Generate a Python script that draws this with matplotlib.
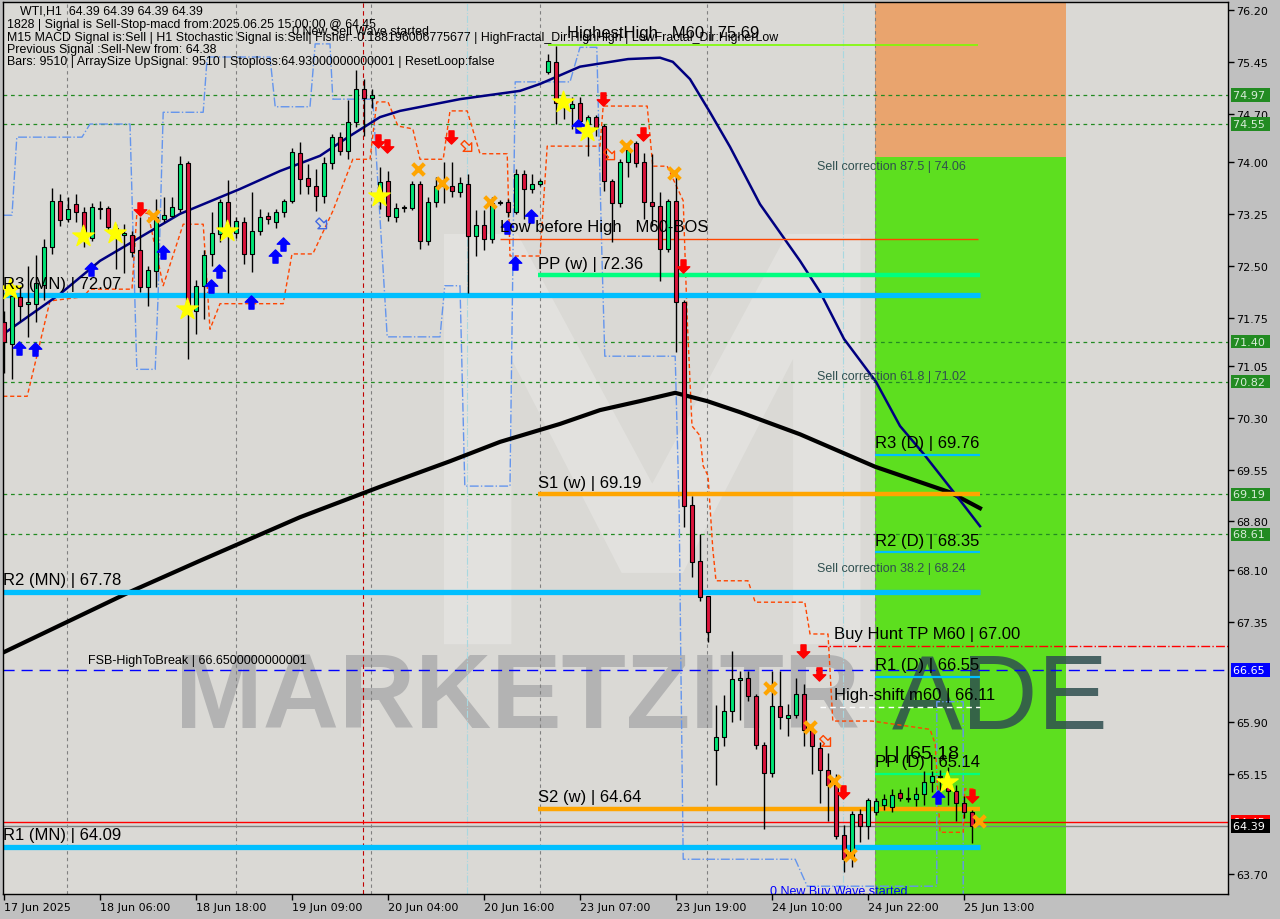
import matplotlib
matplotlib.use("Agg")
import matplotlib.pyplot as plt
import matplotlib.transforms as mtransforms
from matplotlib.path import Path
from matplotlib.patches import Rectangle, Polygon

# ---- H1 candles, bar 0 = 17 Jun 2025 ----
opens = [71.68, 71.37, 72.05, 71.94, 71.95, 72.22, 72.77, 73.43, 73.17, 73.39,
         73.28, 72.90, 73.32, 73.33, 73.05, 72.95, 72.94, 72.72, 72.19, 72.42,
         73.17, 73.22, 73.32, 73.99, 71.85, 72.20, 72.67, 72.96, 73.42, 72.98,
         73.13, 72.67, 73.00, 73.22, 73.13, 73.27, 73.44, 74.13, 73.77, 73.65,
         73.51, 73.99, 74.36, 74.16, 74.58, 75.05, 74.92, 73.51, 73.73, 73.20,
         73.33, 73.33, 73.68, 72.86, 73.42, 73.65, 73.65, 73.57, 73.68, 72.93,
         73.09, 72.88, 73.41, 73.42, 73.28, 73.83, 73.61, 73.68, 75.30, 75.45,
         74.85, 74.78, 74.85, 74.55, 74.65, 74.52, 73.73, 73.40, 74.00, 74.27,
         74.00, 73.42, 73.37, 72.74, 73.44, 71.98, 69.04, 68.22, 67.72, 65.49,
         65.68, 66.05, 66.50, 66.54, 66.27, 65.56, 65.16, 66.13, 65.96, 66.00,
         66.30, 65.78, 65.52, 65.20, 64.99, 64.26, 63.94, 64.56, 64.39, 64.60,
         64.70, 64.66, 64.87, 64.78, 64.78, 64.85, 65.03, 65.10, 64.98, 64.90,
         64.72, 64.60]
highs = [71.85, 72.24, 72.20, 72.49, 72.65, 72.89, 73.62, 73.54, 73.49, 73.54,
         73.35, 73.40, 73.43, 73.37, 73.10, 73.10, 73.00, 73.20, 72.50, 73.46,
         73.49, 73.49, 74.09, 74.02, 72.30, 72.72, 73.28, 73.47, 73.74, 73.20,
         73.20, 73.57, 73.32, 73.27, 73.32, 73.47, 74.20, 74.29, 73.97, 73.90,
         74.07, 74.41, 74.43, 74.90, 75.33, 75.20, 75.05, 73.93, 73.87, 73.40,
         73.38, 73.73, 73.72, 73.50, 73.78, 74.00, 74.00, 73.78, 73.83, 73.30,
         73.30, 73.50, 73.45, 73.47, 73.90, 73.88, 73.83, 73.76, 75.56, 75.68,
         74.98, 74.94, 74.94, 74.68, 74.68, 74.55, 73.76, 74.05, 74.28, 74.30,
         74.13, 74.12, 73.57, 73.47, 73.85, 72.00, 69.17, 68.62, 67.72, 66.14,
         66.29, 66.92, 66.63, 66.63, 66.30, 65.60, 66.63, 66.63, 66.15, 66.54,
         66.44, 65.80, 65.60, 65.45, 65.15, 64.40, 64.61, 64.63, 64.80, 64.80,
         64.85, 64.93, 64.93, 64.95, 64.95, 65.19, 65.19, 65.20, 65.25, 64.98,
         64.82, 64.62]
lows = [70.95, 70.86, 71.70, 71.47, 71.68, 72.00, 72.67, 73.07, 73.13, 73.13,
        72.77, 72.85, 73.18, 73.00, 72.45, 72.40, 72.62, 72.12, 71.92, 72.19,
        73.13, 73.20, 73.28, 71.15, 71.51, 71.73, 72.49, 72.84, 72.10, 72.90,
        72.53, 72.41, 72.95, 73.10, 73.05, 73.20, 73.40, 73.54, 73.54, 73.29,
        73.40, 73.90, 74.10, 74.04, 74.50, 74.38, 74.78, 73.32, 73.15, 73.13,
        73.28, 73.30, 72.74, 72.80, 73.35, 73.40, 73.50, 73.50, 72.10, 72.64,
        72.72, 72.83, 73.38, 73.20, 73.25, 73.17, 73.55, 73.65, 75.28, 74.55,
        74.62, 74.48, 74.48, 74.09, 74.38, 73.58, 72.84, 73.35, 73.78, 73.93,
        73.18, 73.07, 72.28, 72.70, 71.25, 68.72, 68.00, 67.65, 67.05, 64.99,
        65.55, 65.90, 65.92, 66.20, 65.50, 64.35, 65.10, 65.80, 65.70, 65.95,
        65.55, 65.15, 64.72, 64.46, 64.20, 63.73, 63.80, 64.16, 64.20, 64.55,
        64.62, 64.60, 64.75, 64.74, 64.68, 64.70, 64.88, 64.90, 64.70, 64.46,
        64.50, 64.14]
closes = [71.40, 72.06, 71.92, 71.97, 72.25, 72.77, 73.43, 73.16, 73.32, 73.28,
          72.88, 73.35, 73.33, 73.06, 73.00, 72.98, 72.70, 72.19, 72.44, 73.20,
          73.23, 73.35, 73.97, 71.92, 72.21, 72.66, 72.97, 73.42, 73.03, 73.14,
          72.67, 73.00, 73.20, 73.17, 73.27, 73.44, 74.15, 73.75, 73.65, 73.51,
          73.99, 74.36, 74.16, 74.58, 75.05, 74.92, 74.97, 73.71, 73.22, 73.33,
          73.33, 73.68, 72.86, 73.42, 73.65, 73.66, 73.58, 73.70, 72.93, 73.09,
          72.88, 73.40, 73.42, 73.28, 73.83, 73.61, 73.68, 73.73, 75.46, 74.85,
          74.83, 74.84, 74.60, 74.65, 74.50, 73.73, 73.40, 74.00, 74.18, 73.98,
          73.42, 73.37, 72.74, 73.44, 71.98, 69.02, 68.21, 67.70, 67.20, 65.68,
          66.05, 66.52, 66.54, 66.27, 65.56, 65.16, 66.13, 65.97, 66.00, 66.30,
          65.78, 65.55, 65.20, 64.99, 64.25, 63.92, 64.56, 64.39, 64.77, 64.76,
          64.78, 64.84, 64.80, 64.78, 64.85, 65.03, 65.11, 65.12, 64.90, 64.72,
          64.60, 64.39]

# moving averages (bar index, price)
ma_fast_bar = [-0.1, 7, 12, 17, 22, 29.5, 34.5, 39.5, 43, 47, 49.5, 57, 64.5, 67, 72,
               78, 82, 83.6, 85.75, 88.25, 90.75, 94.5, 99.5, 102, 105, 109, 112,
               115, 118.6, 122]
ma_fast_val = [71.51, 72.09, 72.57, 72.91, 73.25, 73.61, 73.87, 74.09, 74.36, 74.65,
               74.74, 74.91, 75.03, 75.13, 75.38, 75.49, 75.51, 75.45, 75.20, 74.72,
               74.22, 73.39, 72.57, 72.12, 71.44, 70.82, 70.18, 69.77, 69.24, 68.73]
ma_slow_bar = [-0.5, 15.75, 24.5, 37, 47, 55.75, 62, 69.5, 74.5, 79.5, 83.9, 87.9,
               92, 99.5, 108.9, 118.25, 122]
ma_slow_val = [66.88, 67.78, 68.23, 68.86, 69.30, 69.67, 69.95, 70.21, 70.41, 70.54,
               70.66, 70.54, 70.38, 70.06, 69.59, 69.22, 68.99]

# trailing stop (orange dashed) and wave channel (blue dash-dot)
stop_bar = [-0.1, 2.9, 5.75, 9.9, 10.75, 16, 16.6, 18, 19.9, 22.4, 24.9, 25.75, 27,
            34.9, 36, 38.6, 41.1, 43.6, 45.75, 46.6, 48, 49.25, 51.1, 52, 54.9,
            55.75, 57.9, 59.5, 62.9, 63.25, 67, 67.9, 74.5, 74.9, 80.4, 81.1, 82.9,
            84.9, 85.4, 86, 87, 87.4, 88, 88.6, 89, 93, 93.9, 100.1, 100.75, 103,
            103.6, 108.5, 115.75, 116.4, 117, 119.9, 120.1, 121.4]
stop_val = [70.61, 70.61, 71.99, 72.05, 72.16, 72.16, 73.25, 73.26, 72.21, 73.10,
            73.10, 71.58, 71.95, 71.95, 72.67, 72.67, 73.29, 74.04, 74.04, 74.87,
            74.87, 74.52, 74.48, 74.04, 74.04, 74.74, 74.74, 74.12, 74.12, 72.64,
            72.64, 74.23, 74.23, 74.81, 74.81, 73.94, 73.94, 73.44, 71.73, 70.18,
            70.04, 69.60, 69.46, 68.40, 67.94, 67.94, 67.63, 67.63, 67.17, 67.17,
            65.91, 65.91, 65.79, 65.58, 64.30, 64.30, 64.93, 64.93]
wave_bar = [-0.1, 1, 1.6, 9.75, 10.75, 15.75, 16.6, 18.9, 19.25, 19.9, 24.9, 25.4,
            33.25, 33.9, 38.25, 38.9, 40.75, 41.1, 46.1, 47.9, 54.5, 55.1, 57, 57.6,
            63.25, 63.9, 70.75, 72, 74.1, 74.75, 75.1, 83.9, 84.4, 84.6, 84.9, 98.9,
            100.4, 116.6, 116.6, 119.9, 119.9]
wave_val = [73.23, 73.23, 74.36, 74.36, 74.55, 74.55, 71.00, 71.00, 72.02, 74.72,
            74.72, 75.52, 75.52, 74.80, 74.80, 75.71, 75.71, 74.91, 74.91, 71.47,
            71.47, 72.21, 72.21, 69.31, 69.31, 75.16, 75.16, 75.66, 75.66, 72.60,
            71.19, 71.19, 68.94, 66.81, 63.91, 63.91, 63.52, 63.52, 66.19, 66.19,
            63.33]

# signal markers (bar index, price)
buy_bar = [1.9, 3.9, 10.9, 19.9, 25.9, 26.9, 30.9, 33.9, 34.9, 62.9, 65.9, 63.9, 71.75, 116.75]
buy_val = [71.31, 71.29, 72.45, 72.70, 72.21, 72.42, 71.97, 72.64, 72.81, 73.06, 73.22, 72.54, 74.52, 64.81]
sell_bar = [17, 46.75, 47.9, 55.9, 74.9, 79.9, 84.9, 99.9, 101.9, 104.9, 121]
sell_val = [73.32, 74.30, 74.23, 74.36, 74.91, 74.41, 72.50, 66.92, 66.59, 64.88, 64.83]
star_bar = [0.75, 9.9, 13.9, 22.9, 27.9, 46.9, 69.9, 72.9, 117.9]
star_val = [72.16, 72.93, 72.97, 71.87, 73.00, 73.51, 74.87, 74.45, 65.03]
cross_bar = [18.6, 51.75, 54.75, 60.75, 77.75, 83.75, 95.75, 100.75, 103.75, 105.75, 121.9]
cross_val = [73.22, 73.90, 73.70, 73.42, 74.23, 73.84, 66.39, 65.82, 65.04, 63.97, 64.46]
hollow_bar = [39.75, 57.9, 75.75, 102.75]
hollow_val = [73.10, 74.22, 74.10, 65.61]
hollow_col = ['#4169e1', '#ff4500', '#ff4500', '#ff4500']

# price axis / time axis
price_ticks = [76.20, 75.45, 74.70, 74.00, 73.25, 72.50, 71.75, 71.05, 70.30, 69.55,
               68.80, 68.10, 67.35, 65.90, 65.15, 63.70]
time_ticks = [0, 12, 24, 36, 48, 60, 72, 84, 96, 108, 120]
time_labels = ['17 Jun 2025', '18 Jun 06:00', '18 Jun 18:00', '19 Jun 09:00',
               '20 Jun 04:00', '20 Jun 16:00', '23 Jun 07:00', '23 Jun 19:00',
               '24 Jun 10:00', '24 Jun 22:00', '25 Jun 13:00']
green_levels = [74.97, 74.55, 71.40, 70.82, 69.19, 68.61]
day_sep = [7.9, 29, 45.9, 67, 87.9, 108.9]

fig = plt.figure(figsize=(12.8, 9.2), dpi=100, facecolor='#c0c0c0')
ax = fig.add_axes([3 / 1280, 25 / 920, 1225 / 1280, 892 / 920])
ax.set_facecolor('#dad9d5')
ax.set_xlim(-0.125, 153.0)
ax.set_ylim(63.407, 76.316)

# trade zone
ax.add_patch(Rectangle((108.9, 63.0), 23.85, 74.08 - 63.0, fc='#5ddf1f', ec='none', zorder=0.4))
ax.add_patch(Rectangle((108.9, 74.08), 23.85, 3.0, fc='#e9a46e', ec='none', zorder=0.4))

# faint logo behind the chart (drawn as a shape, in axes fractions)
logo = [(0.36, 0.28), (0.36, 0.74), (0.42, 0.74), (0.53, 0.46), (0.64, 0.74),
        (0.70, 0.74), (0.70, 0.28), (0.645, 0.28), (0.645, 0.60), (0.555, 0.36),
        (0.505, 0.36), (0.415, 0.60), (0.415, 0.28)]
ax.add_patch(Polygon(logo, closed=True, transform=ax.transAxes, fc='white',
                     ec='none', alpha=0.22, zorder=0.5))

# watermark text
ax.text(21.4, 65.82, 'MARKETZITR', fontsize=76, fontweight='bold', family='Liberation Sans',
        color='#b3b3b3', ha='left', va='baseline', zorder=0.6)
ax.text(111.0, 65.82, 'ADE', fontsize=76, family='Liberation Sans',
        color='#2f4f4f', alpha=0.85, ha='left', va='baseline', zorder=0.6)

# vertical separators
for b in day_sep:
    ax.axvline(b, color='#808080', lw=0.8, ls=(0, (3, 3)), zorder=1)
ax.axvline(44.9, color='#c00000', lw=0.8, ls=(0, (4, 3)), zorder=1)
for b in [57.9, 104.9]:
    ax.axvline(b, color='#a8d8e0', lw=0.8, ls='-.', zorder=1)

# green dotted levels
for lv in green_levels:
    ax.axhline(lv, color='#228b22', lw=0.9, ls=(0, (3, 3)), zorder=1)

# long horizontal lines
ax.axhline(66.65, color='#0000ff', lw=1, ls=(0, (8, 5)), zorder=1.5)
ax.hlines(67.00, 101.75, 153, color='#ff0000', lw=1, ls='-.', zorder=1.5)
ax.axhline(64.45, color='#ff0000', lw=1, zorder=1.5)
ax.axhline(64.39, color='#808080', lw=1, zorder=1.5)

# indicator lines
ax.plot(wave_bar, wave_val, color='#6495ed', lw=1, ls='-.', zorder=2)
ax.plot(stop_bar, stop_val, color='#ff4500', lw=1, ls=(0, (3, 2)), zorder=2)
ax.plot(ma_slow_bar, ma_slow_val, color='black', lw=3, zorder=2.2)
ax.plot(ma_fast_bar, ma_fast_val, color='#000080', lw=1.8, zorder=2.2)

# levels with labels
def level(y, x0, x1, color, lw, label, lx, fs=12):
    ax.hlines(y, x0, x1, color=color, lw=lw, zorder=2.5)
    if label:
        ax.text(lx, y + 0.07, label, fontsize=fs, family='Liberation Sans', color='black',
                ha='left', va='bottom', zorder=5)

level(75.69, 68.0, 121.75, '#7cfc00', 1.2, 'HighestHigh   M60 | 75.69', 70.4)
level(72.89, 62.0, 121.75, '#ff4500', 1.0, 'Low before High   M60-BOS', 62.0)
level(72.36, 66.75, 122, '#00ff7f', 3.2, 'PP (w) | 72.36', 66.75)
level(72.07, -0.2, 122, '#00bfff', 3.8, 'R3 (MN) | 72.07', -0.1)
level(69.19, 66.75, 122, '#ffa500', 3.2, 'S1 (w) | 69.19', 66.75)
level(67.78, -0.2, 122, '#00bfff', 3.8, 'R2 (MN) | 67.78', -0.1)
level(69.76, 108.9, 122, '#00bfff', 1.6, 'R3 (D) | 69.76', 108.9)
level(68.35, 108.9, 122, '#00bfff', 1.6, 'R2 (D) | 68.35', 108.9)
level(66.55, 108.9, 122, '#00bfff', 1.6, 'R1 (D) | 66.55', 108.9)
level(65.14, 108.9, 122, '#00ff7f', 1.6, 'PP (D) | 65.14', 108.9)
level(64.64, 66.75, 122, '#ffa500', 3.2, 'S2 (w) | 64.64', 66.75)
level(64.09, -0.2, 122, '#00bfff', 3.8, 'R1 (MN) | 64.09', -0.1)
ax.hlines(66.11, 102.0, 122, color='white', lw=1, ls=(0, (4, 3)), zorder=2.5)
ax.text(103.75, 66.18, 'High-shift m60 | 66.11', fontsize=12, family='Liberation Sans',
        ha='left', va='bottom', zorder=5)
ax.text(103.75, 67.07, 'Buy Hunt TP M60 | 67.00', fontsize=12, family='Liberation Sans',
        ha='left', va='bottom', zorder=5)
ax.text(110.0, 65.32, '| | |65.18', fontsize=14, family='Liberation Sans',
        ha='left', va='bottom', zorder=5)
ax.text(10.5, 66.70, 'FSB-HighToBreak | 66.6500000000001', fontsize=9,
        family='Liberation Sans', ha='left', va='bottom', zorder=5)
for val, txt in [(74.06, 'Sell correction 87.5 | 74.06'),
                 (71.02, 'Sell correction 61.8 | 71.02'),
                 (68.24, 'Sell correction 38.2 | 68.24')]:
    ax.text(101.6, val - 0.115, txt, fontsize=9, family='Liberation Sans', color='#2f4f4f',
            ha='left', va='center', zorder=5)

# candles
for i in range(len(opens)):
    o, h, l, c = opens[i], highs[i], lows[i], closes[i]
    col = '#00e676' if c >= o else '#dc143c'
    ax.vlines(i, l, h, color='black', lw=1, zorder=3)
    body = max(abs(c - o), 0.015)
    ax.bar(i, body, bottom=min(o, c), width=0.62, color=col, edgecolor='black',
           linewidth=0.8, zorder=3.1)

# markers
up = Path([(0, 1), (0.95, 0.05), (0.38, 0.05), (0.38, -1), (-0.38, -1),
           (-0.38, 0.05), (-0.95, 0.05), (0, 1)],
          [Path.MOVETO] + [Path.LINETO] * 6 + [Path.CLOSEPOLY])
down = Path([(x, -y) for x, y in up.vertices], up.codes)
diag = up.transformed(mtransforms.Affine2D().rotate_deg(-135))
ax.scatter(buy_bar, buy_val, marker=up, s=90, color='#0000ff', zorder=4)
ax.scatter(sell_bar, sell_val, marker=down, s=90, color='#ff0000', zorder=4)
ax.scatter(star_bar, star_val, marker='*', s=260, color='#ffff00', zorder=4)
ax.scatter(cross_bar, cross_val, marker='x', s=70, color='#ffa500', linewidths=3, zorder=4)
ax.scatter(hollow_bar, hollow_val, marker=diag, s=80, facecolors='none',
           edgecolors=hollow_col, linewidths=1, zorder=4)

ax.text(95.75, 63.45, '0 New Buy Wave started', fontsize=9, family='Liberation Sans',
        color='#0000ff', ha='left', va='center', zorder=5, clip_on=True)

# axes styling
for sp in ax.spines.values():
    sp.set_color('black')
    sp.set_linewidth(1)
ax.yaxis.tick_right()
ax.set_yticks(price_ticks)
ax.set_yticklabels(['%.2f' % p for p in price_ticks])
ax.set_xticks(time_ticks)
ax.set_xticklabels(time_labels)
for lbl in ax.get_xticklabels():
    lbl.set_horizontalalignment('left')
ax.tick_params(axis='both', direction='out', length=4, width=1, labelsize=8,
               colors='black', pad=2)

# price tags on the right axis
tr = mtransforms.blended_transform_factory(ax.transAxes, ax.transData)
tags = [(v, '%.2f' % v, '#228b22', '#d8ecd8') for v in green_levels]
tags += [(66.65, '66.65', '#0000ff', 'white'), (64.45, '64.45', '#ff0000', 'white'),
         (64.39, '64.39', 'black', 'white')]
for v, s, bg, fg in tags:
    ax.text(1.0 + 5 / 1225, v, s + ' ', transform=tr, fontsize=8, color=fg, ha='left',
            va='center', clip_on=False,
            bbox=dict(boxstyle='square,pad=0.15', fc=bg, ec='none'))

# info text in the top-left corner
info = ['WTI,H1  64.39 64.39 64.39 64.39',
        '1828 | Signal is Sell-Stop-macd from:2025.06.25 15:00:00 @ 64.45',
        'M15 MACD Signal is:Sell | H1 Stochastic Signal is:Sell| Fisher:-0.188196006775677 | '
        'HighFractal_Dir:HighHigh | LowFractal_Dir:HigherLow',
        'Previous Signal :Sell-New from: 64.38',
        'Bars: 9510 | ArraySize UpSignal: 9510 | Stoploss:64.93000000000001 | ResetLoop:false']
info_x = [20, 7, 7, 7, 7]
info_y = [12, 25, 38, 50, 62]
for s, x, y in zip(info, info_x, info_y):
    fig.text(x / 1280, 1 - y / 920, s, fontsize=8.9, family='Liberation Sans',
             color='black', ha='left', va='center')
fig.text(292 / 1280, 1 - 32 / 920, '0 New Sell Wave started', fontsize=9,
         family='Liberation Sans', color='black', ha='left', va='center')

fig.savefig('out.png', dpi=100, facecolor=fig.get_facecolor())
